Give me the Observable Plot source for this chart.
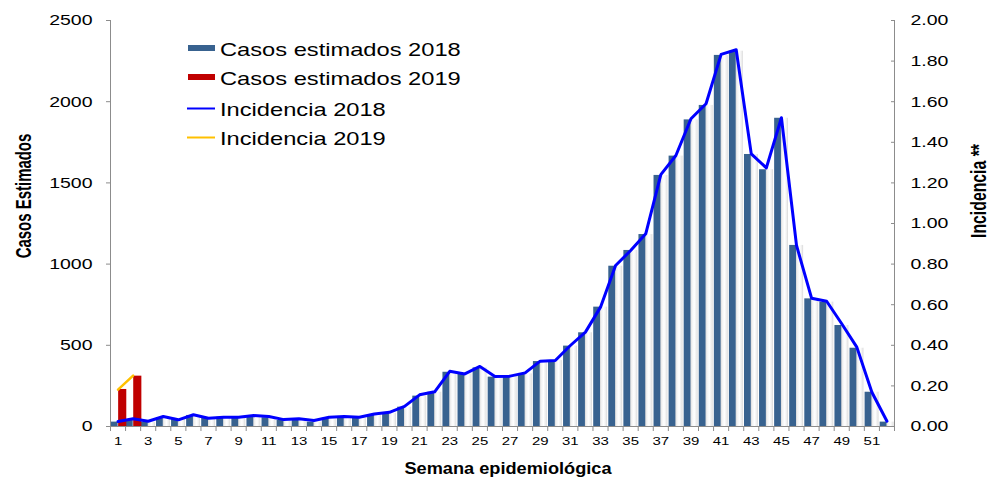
<!DOCTYPE html>
<html>
<head>
<meta charset="utf-8">
<script src="https://cdn.jsdelivr.net/npm/d3@7"></script>
<script src="https://cdn.jsdelivr.net/npm/@observablehq/plot@0.6"></script>
<style>
  html, body { margin: 0; padding: 0; background: #fff; }
  #chart { position: relative; width: 991px; height: 481px; }
</style>
</head>
<body>
<div id="chart"></div>
<script>
// ---- Data ----
const weeks = d3.range(1, 53);
const cases2018 = [27,41,27,51,43,68,49,57,57,57,
                   54,37,41,27,47,57,51,68,82,119,
                   187,211,334,324,361,304,308,324,400,406,
                   495,577,735,987,1084,1182,1546,1665,1888,1977,
                   2285,2311,1675,1581,1898,1115,786,766,622,482,
                   211,27];
const incidence2018 = [0.025,0.038,0.026,0.049,0.033,0.058,0.041,0.046,0.046,0.054,
                       0.049,0.034,0.038,0.030,0.046,0.049,0.046,0.062,0.070,0.099,
                       0.156,0.171,0.272,0.259,0.296,0.246,0.248,0.264,0.322,0.325,
                       0.399,0.465,0.588,0.793,0.867,0.949,1.241,1.335,1.516,1.590,
                       1.833,1.856,1.343,1.274,1.521,0.892,0.632,0.617,0.506,0.391,
                       0.169,0.026];
const weeks2019 = [1, 2];
const cases2019 = [228, 310];
const incidence2019 = [0.182, 0.251];
const leftTicks = [0, 500, 1000, 1500, 2000, 2500];
const rightTicks = [0, 0.2, 0.4, 0.6, 0.8, 1.0, 1.2, 1.4, 1.6, 1.8, 2.0];
const weekLabels = d3.range(1, 53, 2);
const seriesNames = ["Casos estimados 2018", "Casos estimados 2019", "Incidencia 2018", "Incidencia 2019"];
const seriesColors = ["#38628F", "#C00000", "#0000FF", "#FFC000"];

const k = 1250; // 2500 cases <-> 2.00 incidence
const d2018 = weeks.map((w, i) => ({week: w, cases: cases2018[i], inc: incidence2018[i]}));
const d2019 = weeks2019.map((w, i) => ({week: w, cases: cases2019[i], inc: incidence2019[i]}));

const axisGray = "#8c8c8c";

const plot = Plot.plot({
  width: 991,
  height: 481,
  marginLeft: 110,
  marginRight: 97,
  marginTop: 20,
  marginBottom: 55,
  x: {type: "linear", domain: [0.5, 52.5]},
  y: {domain: [0, 2500]},
  style: {fontFamily: "'Liberation Sans', Arial, sans-serif", fontSize: "15px", color: "#000", background: "#fff"},
  marks: [
    // shading stripe next to each bar
    Plot.rectY(d2018, {x1: d => d.week - 0.02, x2: d => d.week + 0.47, y: "cases", fill: "url(#shade)"}),
    Plot.rectY(d2018, {x1: d => d.week - 0.45, x2: d => d.week, y: "cases", fill: seriesColors[0]}),
    Plot.rectY(d2019, {x1: d => d.week + 0.04, x2: d => d.week + 0.58, y: "cases", fill: seriesColors[1]}),
    // axis lines
    Plot.ruleX([0.5], {y1: 0, y2: 2500, stroke: axisGray}),
    Plot.ruleX([52.5], {y1: 0, y2: 2500, stroke: axisGray}),
    Plot.ruleY([0], {stroke: axisGray}),
    // lines
    Plot.line(d2018, {x: "week", y: d => d.inc * k, stroke: seriesColors[2], strokeWidth: 3, strokeLinejoin: "round"}),
    Plot.line(d2019, {x: "week", y: d => d.inc * k, stroke: seriesColors[3], strokeWidth: 2.5, strokeLinejoin: "round"}),
    // axes
    Plot.axisY(leftTicks, {anchor: "left", tickSize: 4, tickPadding: 14, stroke: axisGray, label: null, fontSize: 15,
      tickFormat: d => String(d)}),
    Plot.axisY(rightTicks.map(v => v * k), {anchor: "right", tickSize: -4, tickPadding: 20, stroke: axisGray,
      tickFormat: d => (d / k).toFixed(2), label: null, fontSize: 15}),
    Plot.axisX(d3.range(0.5, 53, 1), {tickSize: 5, tickFormat: () => "", stroke: axisGray, label: null}),
    Plot.axisX(weekLabels, {tickSize: 0, tickPadding: 10, label: null, fontSize: 11.5, tickFormat: d => String(d)})
  ]
});

document.getElementById("chart").appendChild(plot);
const svg = d3.select(plot);

// gradient for bar shading
const defs = svg.insert("defs", ":first-child");
const g = defs.append("linearGradient").attr("id", "shade").attr("x1", 0).attr("x2", 1).attr("y1", 0).attr("y2", 0);
[[0, "#d2d2d2"], [0.25, "#f2f2f2"], [0.55, "#ffffff"], [0.85, "#ececec"], [1, "#d6d6d6"]]
  .forEach(([o, c]) => g.append("stop").attr("offset", o).attr("stop-color", c));

// horizontal stretch of tick labels (the reference is stretched horizontally),
// done by wrapping each label in a group scaled about its anchor point
const svgNS = "http://www.w3.org/2000/svg";
function stretch(sel, sx, sy) {
  sel.nodes().forEach(node => {
    const r = node.getBoundingClientRect();
    if (!r.width) return;
    const anchor = getComputedStyle(node).textAnchor;
    const ax = anchor === "end" ? r.right : anchor === "middle" ? (r.left + r.right) / 2 : r.left;
    const ay = (r.top + r.bottom) / 2;
    const parent = node.parentNode;
    const p = new DOMPoint(ax, ay).matrixTransform(parent.getScreenCTM().inverse());
    const wrap = document.createElementNS(svgNS, "g");
    wrap.setAttribute("transform", `translate(${p.x},${p.y}) scale(${sx},${sy}) translate(${-p.x},${-p.y})`);
    parent.insertBefore(wrap, node);
    wrap.appendChild(node);
  });
}
stretch(svg.selectAll("g[aria-label='y-axis tick label'] text"), 1.3, 1);
stretch(svg.selectAll("g[aria-label='x-axis tick label'] text"), 1.3, 1);

// axis titles
const titleFont = "'Liberation Sans', Arial, sans-serif";
svg.append("text").text("Semana epidemiológica")
  .attr("transform", "translate(508,474) scale(1.07,1)")
  .attr("text-anchor", "middle").attr("font-family", titleFont).attr("font-weight", "bold").attr("font-size", 17);
svg.append("text").text("Casos Estimados")
  .attr("transform", "translate(31,196) rotate(-90) scale(0.88,1.3)")
  .attr("text-anchor", "middle").attr("font-family", titleFont).attr("font-weight", "bold").attr("font-size", 17);
svg.append("text").text("Incidencia **")
  .attr("transform", "translate(986,191) rotate(-90) scale(0.93,1.25)")
  .attr("text-anchor", "middle").attr("font-family", titleFont).attr("font-weight", "bold").attr("font-size", 17);

// legend
const lg = svg.append("g").attr("aria-label", "legend").attr("text-anchor", "start");
const rowsY = [56, 85, 116, 145];
seriesNames.forEach((name, i) => {
  const y = rowsY[i];
  if (i < 2) {
    lg.append("rect").attr("x", 188).attr("y", y - 11).attr("width", 27).attr("height", 6).attr("fill", seriesColors[i]);
  } else {
    lg.append("line").attr("x1", 187).attr("x2", 215).attr("y1", y - 7.5).attr("y2", y - 7.5)
      .attr("stroke", seriesColors[i]).attr("stroke-width", 2);
  }
  lg.append("text").text(name)
    .attr("transform", `translate(220,${y}) scale(1.28,1)`)
    .attr("text-anchor", "start")
    .attr("font-family", titleFont).attr("font-size", 18.5).attr("fill", "#000");
});
</script>
</body>
</html>
